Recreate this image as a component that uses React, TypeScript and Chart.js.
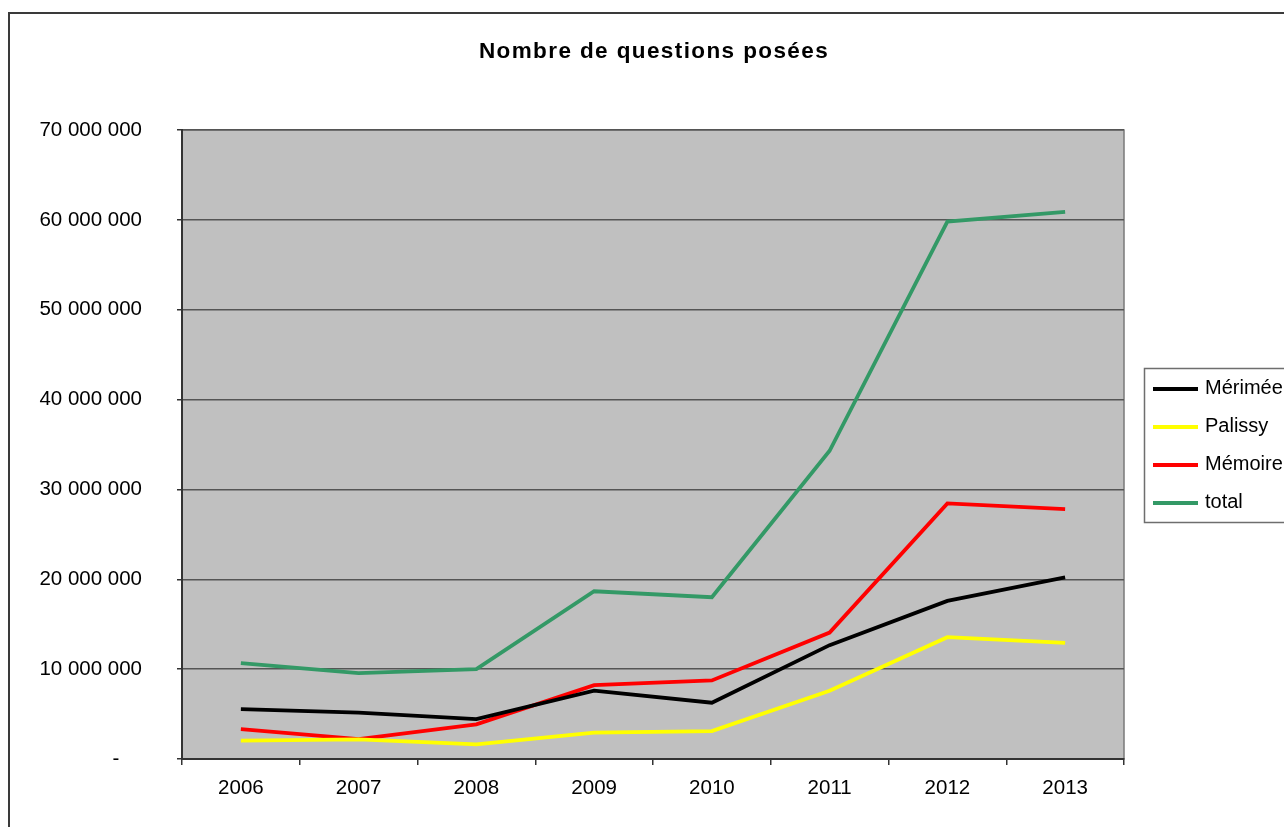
import React, { useEffect, useRef } from "react";
import { Chart, registerables } from "chart.js";

Chart.register(...registerables);

const years = ["2006", "2007", "2008", "2009", "2010", "2011", "2012", "2013"];
const merimee = [5560000, 5150000, 4440000, 7600000, 6260000, 12670000, 17600000, 20200000];
const palissy = [2040000, 2190000, 1630000, 2930000, 3110000, 7600000, 13560000, 12930000];
const memoire = [3330000, 2220000, 3850000, 8220000, 8740000, 14070000, 28440000, 27800000];
const total = [10670000, 9560000, 10000000, 18670000, 18000000, 34300000, 59800000, 60900000];
const seriesNames = ["Mérimée", "Palissy", "Mémoire", "total"];
const seriesColors = ["#000000", "#ffff00", "#ff0000", "#339966"];
const titleText = "Nombre de questions posées";

const fmt = (v: number) => {
  if (v === 0) return "-    ";
  return String(Math.round(v)).replace(/\B(?=(\d{3})+(?!\d))/g, " ");
};

const decorPlugin = {
  id: "decor",
  beforeDraw(chart: any) {
    const { ctx, chartArea: a } = chart;
    ctx.save();
    ctx.fillStyle = "#ffffff";
    ctx.fillRect(0, 0, chart.width, chart.height);
    // outer frame
    ctx.strokeStyle = "#3a3a3a";
    ctx.lineWidth = 2;
    ctx.strokeRect(9, 13, 2000, 2000);
    // plot background
    ctx.fillStyle = "#c0c0c0";
    ctx.fillRect(a.left, a.top, a.right - a.left, a.bottom - a.top);
    ctx.strokeStyle = "#7a7a7a";
    ctx.lineWidth = 1.5;
    ctx.strokeRect(a.left, a.top, a.right - a.left, a.bottom - a.top);
    ctx.restore();
  },
  afterDraw(chart: any) {
    const { ctx, chartArea: a } = chart;
    ctx.save();
    // title
    ctx.font = "bold 22.5px 'Liberation Sans', Arial, sans-serif";
    (ctx as any).letterSpacing = "1.4px";
    ctx.fillStyle = "#000000";
    ctx.textAlign = "center";
    ctx.textBaseline = "alphabetic";
    ctx.fillText(titleText, (a.left + a.right) / 2 + 1, 58);
    (ctx as any).letterSpacing = "0px";
    // legend
    const bx = 1144.5, by = 368.5, bh = 154;
    ctx.strokeStyle = "#6e6e6e";
    ctx.lineWidth = 1.5;
    ctx.strokeRect(bx, by, 400, bh);
    ctx.font = "20px 'Liberation Sans', Arial, sans-serif";
    ctx.textAlign = "left";
    ctx.textBaseline = "middle";
    chart.data.datasets.forEach((ds: any, i: number) => {
      const y = 389 + i * 38;
      ctx.strokeStyle = ds.borderColor;
      ctx.lineWidth = 4;
      ctx.beginPath();
      ctx.moveTo(1153, y);
      ctx.lineTo(1198, y);
      ctx.stroke();
      ctx.fillStyle = "#000000";
      ctx.fillText(ds.label, 1205, y - 1);
    });
    ctx.restore();
  },
};

export default function App() {
  const ref = useRef<HTMLCanvasElement | null>(null);
  useEffect(() => {
    if (!ref.current) return;
    const mk = (label: string, data: number[], color: string) => ({
      label,
      data,
      borderColor: color,
      backgroundColor: color,
      borderWidth: 3.8,
      pointRadius: 0,
      tension: 0,
      fill: false,
    });
    const chart = new Chart(ref.current, {
      type: "line",
      data: {
        labels: years,
        datasets: [
          mk(seriesNames[0], merimee, seriesColors[0]),
          mk(seriesNames[1], palissy, seriesColors[1]),
          mk(seriesNames[2], memoire, seriesColors[2]),
          mk(seriesNames[3], total, seriesColors[3]),
        ],
      },
      options: {
        responsive: false,
        animation: false,
        devicePixelRatio: 1,
        layout: { padding: { top: 130, right: 160, bottom: 0, left: 0 } },
        plugins: {
          legend: { display: false },
          title: { display: false },
          tooltip: { enabled: false },
        },
        scales: {
          x: {
            offset: true,
            afterFit: (s: any) => {
              s.height = 68;
            },
            grid: {
              offset: true,
              drawOnChartArea: false,
              drawTicks: true,
              tickLength: 6,
              color: "#333333",
              lineWidth: 1.5,
            },
            border: { color: "#333333", width: 2 },
            ticks: {
              color: "#000000",
              padding: 11,
              maxRotation: 0,
              font: { family: "'Liberation Sans', Arial, sans-serif", size: 20.5 },
            },
          },
          y: {
            min: 0,
            max: 70000000,
            afterFit: (s: any) => {
              s.width = 182;
            },
            grid: {
              color: "#555555",
              lineWidth: 1.5,
              drawTicks: true,
              tickLength: 5,
              tickColor: "#333333",
            },
            border: { color: "#333333", width: 2 },
            ticks: {
              stepSize: 10000000,
              color: "#000000",
              padding: 35,
              font: { family: "'Liberation Sans', Arial, sans-serif", size: 20.5 },
              callback: (v: any) => fmt(Number(v)),
            },
          },
        },
      },
      plugins: [decorPlugin],
    });
    return () => chart.destroy();
  }, []);
  return (
    <div style={{ position: "fixed", left: 0, top: 0, width: 1284, height: 827, overflow: "hidden" }}>
      <canvas ref={ref} width={1284} height={827} style={{ display: "block" }} />
    </div>
  );
}
